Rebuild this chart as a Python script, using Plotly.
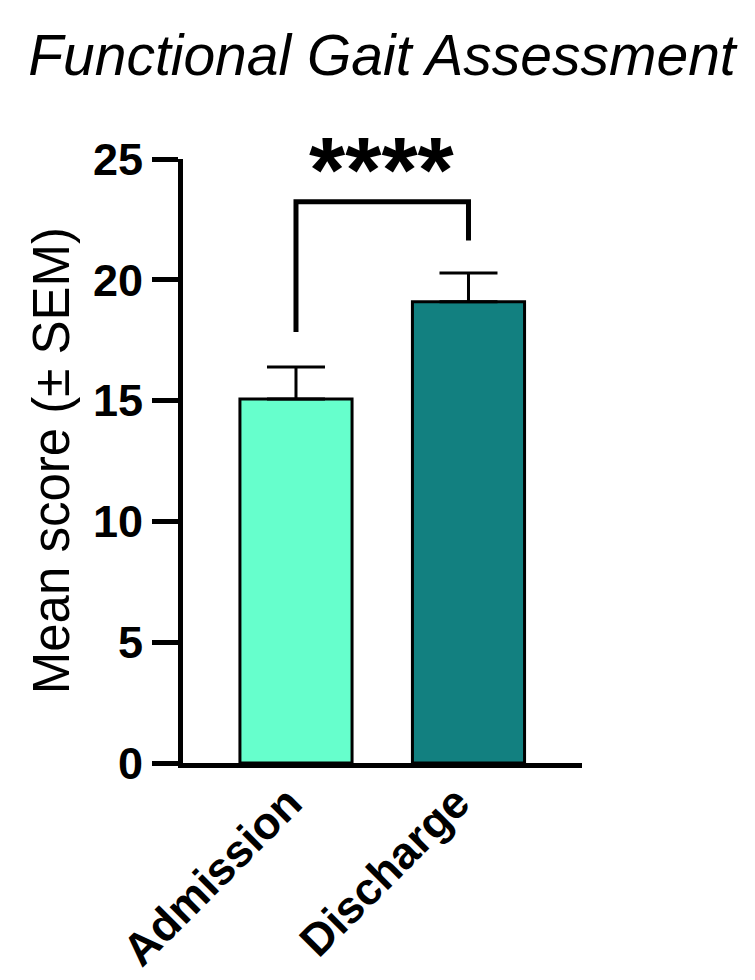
import plotly.graph_objects as go

# values
groups = ["Admission", "Discharge"]
mean_score = [15.07, 19.09]
sem = [1.32, 1.19]
bar_colors = ["#66FFCC", "#128080"]

y_ticks = [0, 5, 10, 15, 20, 25]
sig_label = "****"

font = "Liberation Sans, Arial, sans-serif"
xpos = list(range(len(groups)))

fig = go.Figure()

fig.add_trace(go.Bar(
    x=xpos, y=mean_score, width=0.65,
    marker=dict(color=bar_colors, line=dict(color="black", width=3)),
    error_y=dict(type="data", symmetric=False, array=sem,
                 arrayminus=[0] * len(sem), color="black",
                 thickness=3, width=29),
    showlegend=False,
))

# significance bracket
top = max(m + s for m, s in zip(mean_score, sem))
fig.add_trace(go.Scatter(
    x=[0, 0, 1, 1],
    y=[mean_score[0] + sem[0] + 1.45, top + 2.95, top + 2.95, top + 1.35],
    mode="lines", line=dict(color="black", width=5),
    showlegend=False, hoverinfo="skip",
))
fig.add_annotation(x=0.5, y=top + 4.25, text="<b>" + sig_label + "</b>",
                   showarrow=False, font=dict(family=font, size=93, color="black"),
                   xanchor="center", yanchor="middle")

# rotated category labels
for x, g, dx in zip(xpos, groups, [18, 14]):
    fig.add_annotation(x=x, xref="x", y=0, yref="paper", text="<b>" + g + "</b>",
                       textangle=-45, showarrow=False, xanchor="right",
                       yanchor="top", xshift=dx, yshift=-11,
                       font=dict(family=font, size=45, color="black"))

# y title
fig.add_annotation(xref="paper", yref="paper", x=-0.33, y=0.5,
                   text="Mean score (± SEM)", textangle=-90, showarrow=False,
                   font=dict(family=font, size=51, color="black"),
                   xanchor="center", yanchor="middle")

fig.update_layout(
    width=739, height=972,
    margin=dict(l=175, r=165, t=151, b=217),
    paper_bgcolor="white", plot_bgcolor="white",
    title=dict(text="<i>Functional Gait Assessment</i>", x=0.506, xanchor="center",
               y=1 - 47.0 / 972, yanchor="middle",
               font=dict(family=font, size=57, color="black")),
    font=dict(family=font, color="black"),
)

fig.update_xaxes(
    range=[-0.655, 1.658], tickvals=xpos, showticklabels=False,
    showline=True, linecolor="black", linewidth=5,
    showgrid=False, zeroline=False, ticks="", automargin=False,
)
fig.update_yaxes(
    range=[0, 25], tickvals=y_ticks,
    ticktext=["<b>%d</b>" % v for v in y_ticks],
    tickfont=dict(family=font, size=45, color="black"),
    showline=True, linecolor="black", linewidth=5,
    ticks="outside", ticklen=26, tickwidth=5, tickcolor="black",
    ticklabelstandoff=0, automargin=False,
    showgrid=False, zeroline=False,
)

fig.write_html("out.html")
